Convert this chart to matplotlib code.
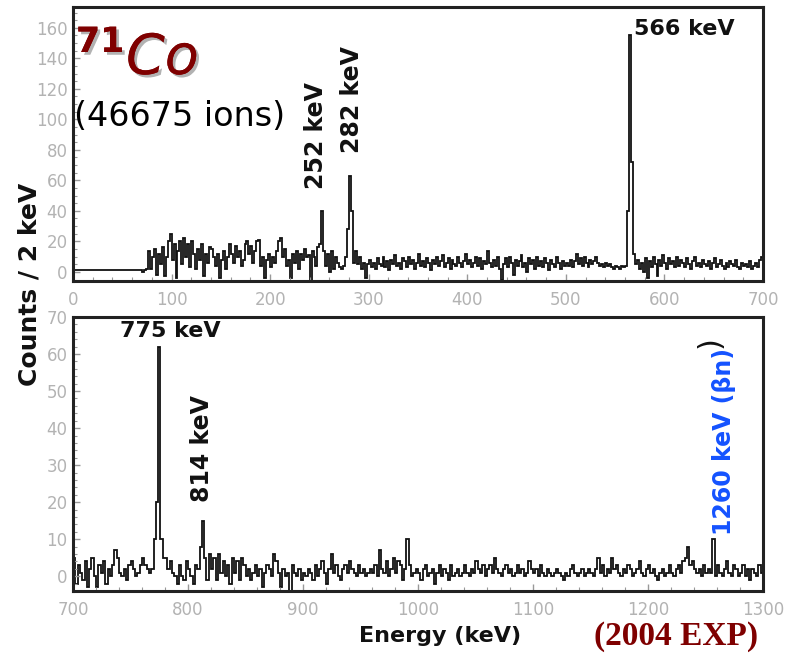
import numpy as np
import matplotlib
matplotlib.use("Agg")
import matplotlib.pyplot as plt
import matplotlib.patheffects as pe
from matplotlib.ticker import MultipleLocator

# 71Co gamma spectrum, counts per 2 keV bin
top_start = 0
top_counts = [
    1, 1, 1, 1, 1, 1, 1, 1, 1, 1,
    1, 1, 1, 1, 1, 1, 1, 1, 1, 1,
    1, 1, 1, 1, 1, 1, 1, 1, 1, 1,
    1, 1, 1, 1, 1, 0, 1, 2, 14, 2,
    10, 15, -2, 12, 5, 16, -3, 10, 20, 25,
    8, 18, -4, 14, 20, 5, 22, 10, 18, 3,
    20, 12, 2, 15, 8, 18, -3, 12, 6, 16,
    15, 10, 4, 12, -4, 8, 14, 2, 10, 18,
    12, 6, 17, 10, 14, 4, 8, 18, 20, 12,
    17, 6, 14, 20, 21, 4, 10, -4, 8, 12,
    3, 10, 6, 14, 20, 22, 10, 15, 4, 8,
    -4, 12, 6, 14, 2, 12, 8, 15, 10, 11,
    -6, 14, 10, 4, 16, 18, 40, 14, 4, 12,
    0, 14, 2, 10, 6, 3, 2, 4, 10, 28,
    63, 40, 6, 14, 5, 10, 2, 6, -4, 5,
    8, 3, 6, 2, 9, 5, 4, 10, 3, 7,
    1, 8, 5, 11, 4, 6, 2, 9, 7, 3,
    10, 5, 8, 2, 6, 12, 4, 7, 3, 9,
    6, 1, 8, 5, 10, 4, 7, 11, 3, 6,
    9, 2, 8, 5, 4, 10, 6, 3, 7, 12,
    5, 8, 3, 6, 10, 4, 9, 2, 7, 5,
    14, 6, 3, 8, 4, 10, 2, -5, 5, 9,
    3, 10, 6, -2, 8, 4, 7, 11, 3, 6,
    0, 9, 5, 8, 2, 10, 4, 7, 3, 9,
    6, 1, 8, 5, 3, 10, 6, 2, 7, 4,
    6, 4, 8, 3, 7, 12, 5, 9, 4, 10,
    6, 3, 8, 5, 7, 10, 6, 4, 5, 3,
    6, 4, 5, 3, 2, 4, 3, 2, 4, 3,
    4, 40, 155, 72, 12, 5, 8, 2, 6, 0,
    9, -4, 7, 3, 10, 5, -3, 8, 4, 11,
    6, 2, 9, 5, 7, 3, 10, 4, 8, 6,
    3, 9, 5, 2, 7, 10, 4, 6, 3, 8,
    5, 4, 7, 2, 6, 9, 3, 5, 8, 4,
    2, 6, 3, 7, 5, 4, 8, 3, 2, 6,
    4, 5, 3, 7, 2, 4, 6, 3, 8, 10,
]

bottom_start = 700
bottom_counts = [
    5, -2, 3, 1, -1, 4, -3, 2, 5, 0,
    -3, 3, 1, 4, -2, 2, 0, 3, 7, 5,
    1, 0, 2, -1, 3, 4, 2, 0, 1, 3,
    5, 3, 2, 1, 2, 10, 20, 62, 10, 5,
    5, 2, 4, 1, 0, -2, 3, 0, -1, 4,
    2, 0, -2, 3, 2, 8, 15, 5, -1, 6,
    2, 5, -1, 6, 1, 4, 0, 3, -2, 5,
    1, 4, -1, 5, 3, 0, 2, -1, 1, 3,
    0, 2, -3, 1, 3, 2, 0, 6, 4, 1,
    -3, 2, 0, 1, -4, 3, 1, 0, 2, -1,
    1, 0, 2, 1, -1, 3, 0, 2, 4, 1,
    -2, 2, 6, 1, 3, 0, -1, 2, 3, 1,
    4, 2, 1, 0, 3, 1, 2, 0, 1, 2,
    1, 3, 0, 7, 2, 1, 4, 0, 2, 5,
    1, 4, 3, -1, 2, 10, 3, 0, 1, 2,
    1, -1, 2, 3, 0, 1, 2, -2, 1, 3,
    0, 2, 1, -1, 3, 0, 1, 2, 0, 1,
    3, 1, 0, 2, 1, 4, 2, 1, 3, 0,
    2, 3, 1, 5, 2, 1, 0, 2, 3, 1,
    2, 0, 1, 3, 1, 2, 0, 1, 4, 2,
    1, 2, 0, 3, 1, 0, 2, 1, 0, 1,
    2, 1, 0, -1, 1, 0, 2, 3, 1, 0,
    1, 2, 0, 1, 2, 1, 0, 2, 5, 1,
    3, 0, 2, 1, 5, 2, 3, 1, 0, 2,
    1, 3, 2, 0, 1, 2, 4, 1, 0, 2,
    3, 1, 2, 0, -1, 1, 2, 0, 1, 3,
    1, 0, 2, 3, 1, 4, 5, 8, 3, 4,
    2, 1, 2, 0, 3, 1, 2, 1, 10, 0,
    3, 1, 0, 2, 4, 1, 0, 3, 2, 0,
    1, 3, 0, 2, -1, 2, 1, 0, 3, 1,
]

bin_width = 2
top_labels = [("252 keV", 247, 54), ("282 keV", 283, 78)]
bottom_labels = [("814 keV", 812, 20)]

DARK_RED = "#7f0000"
TICK_GRAY = "#b3b3b3"


def style_axes(ax, xlim, ylim, xmajor, ymajor, ymin_step):
    ax.set_xlim(*xlim)
    ax.set_ylim(*ylim)
    ax.xaxis.set_major_locator(MultipleLocator(xmajor))
    ax.xaxis.set_minor_locator(MultipleLocator(20))
    ax.yaxis.set_major_locator(MultipleLocator(ymajor))
    ax.yaxis.set_minor_locator(MultipleLocator(ymin_step))
    ax.tick_params(which="both", direction="in", color="#999999",
                   labelcolor=TICK_GRAY, labelsize=12)
    ax.tick_params(which="major", length=5, width=1)
    ax.tick_params(which="minor", length=3, width=0.8)
    ax.tick_params(axis="y", pad=4)
    ax.tick_params(axis="x", pad=7)
    for s in ax.spines.values():
        s.set_linewidth(2.2)
        s.set_color("#222222")


fig = plt.figure(figsize=(7.86, 6.58), dpi=100)
ax1 = fig.add_axes([0.0929, 0.5729, 0.8778, 0.4164])
ax2 = fig.add_axes([0.0929, 0.1018, 0.8778, 0.4164])

edges1 = top_start + bin_width * np.arange(len(top_counts) + 1)
edges2 = bottom_start + bin_width * np.arange(len(bottom_counts) + 1)
ax1.stairs(top_counts, edges1, color="#111111", lw=1.3)
ax2.stairs(bottom_counts, edges2, color="#111111", lw=1.3)

style_axes(ax1, (0, 700), (-6, 173.6), 100, 20, 5)
style_axes(ax2, (700, 1300), (-4, 70), 100, 10, 2)
ax1.set_yticks([t for t in range(0, 161, 20)])
ax2.set_yticks([t for t in range(0, 71, 10)])

lbl = dict(fontsize=17, fontweight="bold", family="DejaVu Sans", color="#111111")
for txt, x, y in top_labels:
    ax1.text(x, y, txt, rotation=90, ha="center", va="bottom", **lbl)
ax1.text(569, 166, "566 keV", ha="left", va="top",
         fontsize=16, fontweight="bold", color="#111111")
for txt, x, y in bottom_labels:
    ax2.text(x, y, txt, rotation=90, ha="center", va="bottom", **lbl)
ax2.text(785, 69, "775 keV", ha="center", va="top",
         fontsize=16, fontweight="bold", color="#111111")
ax2.text(1266, 11, "1260 keV (βn)", rotation=90, ha="center", va="bottom",
         fontsize=17, fontweight="bold", color="#1452ff")
ax2.text(1254, 61.6, ")", rotation=90, ha="center", va="bottom",
         fontsize=22, color="#111111")

# title block
shadow = [pe.withSimplePatchShadow(offset=(2, -2), shadow_rgbFace="#aaaaaa", alpha=0.9),
          pe.Normal()]
fig.text(76 / 786, 1 - 52 / 658, "71", fontsize=25, fontweight="bold",
         color=DARK_RED, path_effects=shadow)
fig.text(126 / 786, 1 - 74 / 658, "Co", fontsize=40, style="italic",
         color=DARK_RED, path_effects=shadow)
fig.text(74 / 786, 1 - 117 / 658, "(46675 ions)", fontsize=24,
         va="center", color="black")

fig.text(30 / 786, 1 - 284 / 658, "Counts / 2 keV", rotation=90,
         ha="center", va="center", fontsize=18, fontweight="bold", color="#111111")
fig.text(440 / 786, 1 - 636 / 658, "Energy (keV)", ha="center", va="center",
         fontsize=16, fontweight="bold", color="#111111")
fig.text(676 / 786, 1 - 637 / 658, "(2004 EXP)", ha="center", va="center",
         fontsize=24, fontweight="bold", family="Liberation Serif", color=DARK_RED)

fig.savefig("out.png", dpi=100)
